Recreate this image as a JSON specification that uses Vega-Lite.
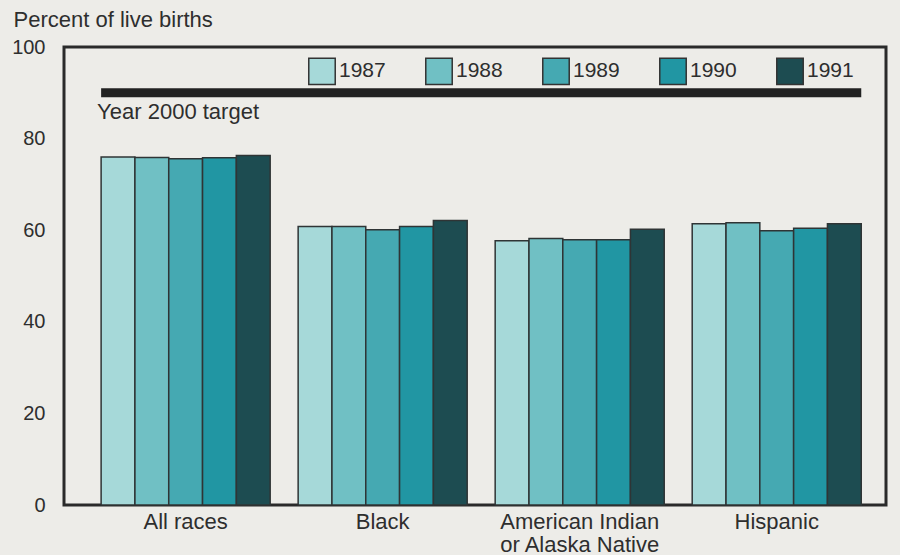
{
  "$schema": "https://vega.github.io/schema/vega-lite/v6.json",
  "width": 822,
  "height": 458,
  "autosize": "none",
  "padding": {"left": 64, "top": 47, "right": 14, "bottom": 50},
  "background": "#edece8",
  "config": {
    "font": "Liberation Sans",
    "view": {"stroke": "#2a2a2a", "strokeWidth": 3}
  },
  "datasets": {
    "births": [
      {"group": "All races", "year": "1987", "percent": 76.0},
      {"group": "All races", "year": "1988", "percent": 75.9},
      {"group": "All races", "year": "1989", "percent": 75.6},
      {"group": "All races", "year": "1990", "percent": 75.8},
      {"group": "All races", "year": "1991", "percent": 76.3},
      {"group": "Black", "year": "1987", "percent": 60.8},
      {"group": "Black", "year": "1988", "percent": 60.8},
      {"group": "Black", "year": "1989", "percent": 60.1},
      {"group": "Black", "year": "1990", "percent": 60.8},
      {"group": "Black", "year": "1991", "percent": 62.1},
      {"group": "American Indian|or Alaska Native", "year": "1987", "percent": 57.7},
      {"group": "American Indian|or Alaska Native", "year": "1988", "percent": 58.2},
      {"group": "American Indian|or Alaska Native", "year": "1989", "percent": 57.9},
      {"group": "American Indian|or Alaska Native", "year": "1990", "percent": 57.9},
      {"group": "American Indian|or Alaska Native", "year": "1991", "percent": 60.2},
      {"group": "Hispanic", "year": "1987", "percent": 61.4},
      {"group": "Hispanic", "year": "1988", "percent": 61.6},
      {"group": "Hispanic", "year": "1989", "percent": 59.9},
      {"group": "Hispanic", "year": "1990", "percent": 60.4},
      {"group": "Hispanic", "year": "1991", "percent": 61.4}
    ],
    "target": [
      {"from": "All races", "to": "Hispanic", "value": 90, "label": "Year 2000 target"}
    ]
  },
  "layer": [
    {
      "data": {"name": "births"},
      "mark": {"type": "bar", "stroke": "#2f3435", "strokeWidth": 1.5},
      "encoding": {
        "x": {
          "field": "group",
          "type": "nominal",
          "sort": ["All races", "Black", "American Indian|or Alaska Native", "Hispanic"],
          "scale": {"domain": ["All races", "Black", "American Indian|or Alaska Native", "Hispanic"], "paddingInner": 0.142, "paddingOuter": 0.157, "align": 0.6},
          "axis": {
            "title": null,
            "ticks": false,
            "domain": false,
            "grid": false,
            "labelAngle": 0,
            "labelFontSize": 22,
            "labelColor": "#2e2e2e",
            "labelPadding": 6,
            "labelBaseline": "top",
            "labelLineHeight": 23,
            "labelExpr": "split(datum.label, '|')"
          }
        },
        "xOffset": {
          "field": "year",
          "type": "nominal",
          "scale": {"paddingInner": 0, "paddingOuter": 0}
        },
        "y": {
          "field": "percent",
          "type": "quantitative",
          "scale": {"domain": [0, 100], "nice": false},
          "axis": {
            "values": [0, 20, 40, 60, 80, 100],
            "ticks": false,
            "domain": false,
            "grid": false,
            "labelFontSize": 20,
            "labelColor": "#2e2e2e",
            "labelPadding": 19,
            "title": "Percent of live births",
            "titleAngle": 0,
            "titleAlign": "left",
            "titleBaseline": "alphabetic",
            "titleX": -51,
            "titleY": -21,
            "titleFontSize": 22,
            "titleFontWeight": "normal",
            "titleColor": "#2e2e2e"
          }
        },
        "fill": {
          "field": "year",
          "type": "nominal",
          "scale": {
            "domain": ["1987", "1988", "1989", "1990", "1991"],
            "range": ["#a6d9d9", "#70c0c4", "#45a9b2", "#2196a3", "#1d4c51"]
          },
          "legend": {
            "orient": "none",
            "legendX": 244,
            "legendY": 10,
            "direction": "horizontal",
            "title": null,
            "symbolType": "square",
            "symbolSize": 700,
            "symbolStrokeColor": "#333333",
            "symbolStrokeWidth": 1.5,
            "symbolOpacity": 1,
            "labelFontSize": 21,
            "labelColor": "#2e2e2e",
            "labelOffset": 3,
            "columnPadding": 36
          }
        }
      }
    },
    {
      "data": {"name": "target"},
      "mark": {"type": "rule", "strokeWidth": 9, "color": "#222222"},
      "encoding": {
        "x": {"field": "from", "type": "nominal", "bandPosition": 0},
        "x2": {"field": "to", "bandPosition": 1},
        "y": {"field": "value", "type": "quantitative"}
      }
    },
    {
      "data": {"name": "target"},
      "mark": {"type": "text", "align": "left", "baseline": "top", "dy": 9, "dx": -4, "fontSize": 22, "color": "#2e2e2e"},
      "encoding": {
        "x": {"field": "from", "type": "nominal", "bandPosition": 0},
        "y": {"field": "value", "type": "quantitative"},
        "text": {"field": "label"}
      }
    }
  ]
}
